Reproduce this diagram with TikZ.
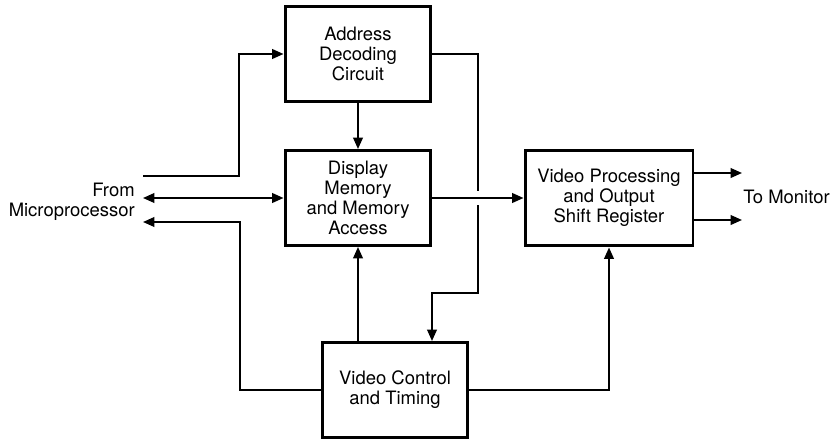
\documentclass[tikz,border=0pt]{standalone}
\usepackage{fontspec}
\setmainfont{TeX Gyre Heros}
\usetikzlibrary{arrows.meta}

\tikzset{
  block/.style={draw, line width=1.7pt, align=center, inner sep=2pt,
    font=\fontsize{10.5}{11.4}\selectfont},
  label/.style={font=\fontsize{10.5}{11.4}\selectfont},
  wire/.style={line width=1.1pt},
  arrow/.style={wire, -{Triangle[length=6.5pt,width=5.5pt]}},
  dblarrow/.style={wire, {Triangle[length=6.5pt,width=5.5pt]}-{Triangle[length=6.5pt,width=5.5pt]}},
}

\begin{document}
\begin{tikzpicture}[x=0.02cm,y=-0.02cm]
  \useasboundingbox (0,0) rectangle (831,439);

  %ブロック
  \node[block, minimum width=2.92cm, minimum height=1.92cm] (addr) at (358,54) {Address\\Decoding\\Circuit};
  \node[block, minimum width=2.92cm, minimum height=1.9cm] (dispmem) at (358,198) {Display\\Memory\\and Memory\\Access};
  \node[block, minimum width=3.36cm, minimum height=1.92cm] (vidproc) at (609,198) {Video Processing\\and Output\\Shift Register};
  \node[block, minimum width=2.9cm, minimum height=1.9cm] (vidctrl) at (395,390) {Video Control\\and Timing};

  %ラベル
  \node[label, anchor=east, align=right, inner sep=0pt] (micro) at (135,202) {From\\Microprocessor};
  \node[label, anchor=west, inner sep=0pt] (monitor) at (743,197) {To Monitor};

  %座標
  \coordinate (in1) at (143,176);
  \coordinate (bend1) at (239,176);
  \coordinate (bus) at (143,198);
  \coordinate (out1) at (143,222);
  \coordinate (bend2) at (240,222);
  \coordinate (hopA) at (478,191);
  \coordinate (hopB) at (478,205);
  \coordinate (bendR) at (478,293);
  \coordinate (bendL) at (432,293);
  \coordinate (mon1) at (742,173);
  \coordinate (mon2) at (742,220);

  %左側の線
  \draw[arrow] (in1) -- (bend1) |- (addr.west);
  \draw[dblarrow] (bus) -- (dispmem.west);
  \draw[arrow] (vidctrl.west) -| (bend2) -- (out1);

  %ブロック間の矢印
  \draw[arrow] (addr.south) -- (dispmem.north);
  \draw[arrow] (vidctrl.north -| dispmem.south) -- (dispmem.south);
  \draw[arrow] (dispmem.east) -- (vidproc.west);
  \draw[wire] (addr.east) -| (hopA);
  \draw[arrow] (hopB) -- (bendR) -- (bendL) -- (bendL |- vidctrl.north);
  \draw[arrow] (vidctrl.east) -| (vidproc.south);

  %出力
  \draw[arrow] (vidproc.east |- mon1) -- (mon1);
  \draw[arrow] (vidproc.east |- mon2) -- (mon2);
\end{tikzpicture}
\end{document}
